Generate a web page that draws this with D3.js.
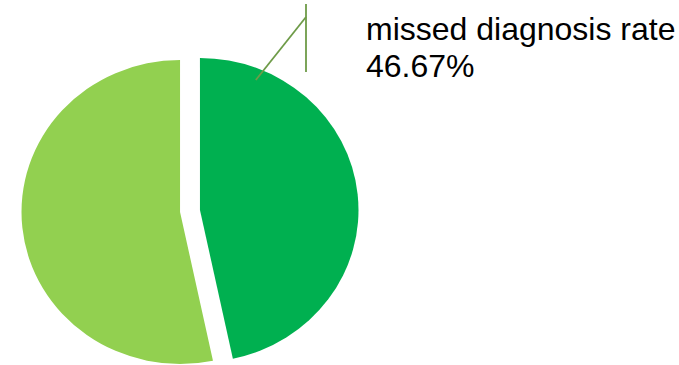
<!DOCTYPE html>
<html>
<head>
<meta charset="utf-8">
<script src="https://cdn.jsdelivr.net/npm/d3@7"></script>
<style>
  html, body { margin: 0; padding: 0; background: #fff; }
  svg { display: block; }
</style>
</head>
<body>
<svg id="chart" width="679" height="365"></svg>
<script>
// data
const categories = ["missed diagnosis rate", "detected"];
const values = [46.67, 53.33];
const colors = ["#00B050", "#92D050"];
const labelIndex = 0;

const svg = d3.select("#chart");

// pie geometry (slightly stretched horizontally like the original)
const cx = 190, cy = 211, radius = 152, sx = 1.043, explode = 9.6;

const pie = d3.pie().sort(null).value(d => d.value);
const arc = d3.arc().innerRadius(0).outerRadius(radius);

const slices = pie(categories.map((c, i) => ({ name: c, value: values[i], color: colors[i] })));

const offset = d => {
  const mid = (d.startAngle + d.endAngle) / 2;
  return [explode * Math.sin(mid), -explode * Math.cos(mid)];
};

const g = svg.append("g")
  .attr("transform", `translate(${cx},${cy}) scale(${sx},1)`);

g.selectAll("path.slice").data(slices)
  .enter().append("path")
    .attr("class", "slice")
    .attr("d", arc)
    .attr("fill", d => d.data.color)
    .attr("transform", d => `translate(${offset(d)[0]},${offset(d)[1]})`);

// leader line + label
const ls = slices[labelIndex];
const anchorAngle = 22.4 * Math.PI / 180, anchorR = radius * 0.925;
const [ox, oy] = offset(ls);
const startX = cx + sx * (ox + anchorR * Math.sin(anchorAngle));
const startY = cy + oy - anchorR * Math.cos(anchorAngle);
const elbowX = 306, elbowY = 17;

svg.append("line")
  .attr("x1", startX).attr("y1", startY)
  .attr("x2", elbowX).attr("y2", elbowY)
  .attr("stroke", "#6E9B48").attr("stroke-width", 1.8);
svg.append("line")
  .attr("x1", elbowX).attr("y1", 4)
  .attr("x2", elbowX).attr("y2", 72)
  .attr("stroke", "#6E9B48").attr("stroke-width", 1.8);

const label = svg.append("text")
  .attr("font-family", "Liberation Sans, Arial, sans-serif")
  .attr("font-size", 32)
  .attr("fill", "#000");
label.append("tspan").attr("x", 366).attr("y", 39.5).text(ls.data.name);
label.append("tspan").attr("x", 366).attr("y", 77).text(d3.format(".2f")(ls.data.value) + "%");
</script>
</body>
</html>
